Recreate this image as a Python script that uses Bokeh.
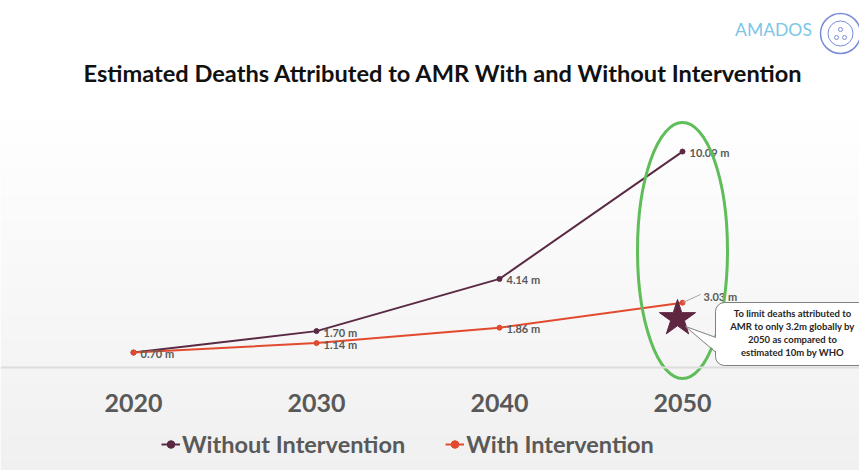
import numpy as np
from bokeh.plotting import figure
from bokeh.models import Range1d, FixedTicker, Label, Legend, LegendItem
from bokeh.core.properties import value
from bokeh.embed import file_html
from bokeh.resources import INLINE

# ---------------- data ----------------
years = [2020, 2030, 2040, 2050]
tick_labels = ["2020", "2030", "2040", "2050"]
without_vals = [0.70, 1.70, 4.14, 10.09]
with_vals = [0.70, 1.14, 1.86, 3.03]
without_labels = ["0.70 m", "1.70 m", "4.14 m", "10.09 m"]
with_labels = ["0.70 m", "1.14 m", "1.86 m", "3.03 m"]
series_names = ["Without Intervention", "With Intervention"]
title_text = "Estimated Deaths Attributed to AMR With and Without Intervention"
callout_lines = ["To limit deaths attributed to", "AMR to only 3.2m globally by",
                 "2050 as compared to", "estimated 10m by WHO"]

# ---------------- layout helpers (pixel -> data for decorations) ----------------
W, H = 859, 470
X_PX0, X_PPU = 133.0, 18.3      # px of first year, px per year
Y_PX0, Y_PPU = 367.0, 21.4      # px of zero, px per million

def dx(px):
    return years[0] + (px - X_PX0) / X_PPU

def dy(py):
    return (Y_PX0 - py) / Y_PPU

C_WITHOUT = "#5a2a44"
C_WITH = "#e24a2e"
GRAY = "#595959"
FONT = "Lato"

p = figure(width=W, height=H, output_backend="svg", toolbar_location=None,
           x_range=Range1d(dx(0), dx(W)), y_range=Range1d(dy(H), dy(0)),
           y_axis_location=None, min_border=0, min_border_left=0, min_border_right=0,
           min_border_top=0, min_border_bottom=0)
p.outline_line_color = None
p.xgrid.visible = False
p.ygrid.visible = False
p.background_fill_color = "white"
p.border_fill_color = "white"

# background gradient (white top -> light gray bottom)
N = 94
rows = []
for i in range(N):
    ypx = H - (i + 0.5) * H / N
    v = 255 if ypx < 110 else int(round(255 - 15 * (ypx - 110) / (H - 110)))
    rows.append([v])
g = np.array(rows, dtype=np.uint32)
img = (255 << 24) | (g << 16) | (g << 8) | g
p.image_rgba(image=[img.astype(np.uint32)], x=dx(0), y=dy(H), dw=dx(W) - dx(0), dh=dy(0) - dy(H))

# x axis at zero
ax = p.xaxis[0]
ax.fixed_location = 0
ax.ticker = FixedTicker(ticks=years)
ax.major_label_overrides = {y: t for y, t in zip(years, tick_labels)}
ax.major_tick_line_color = None
ax.minor_tick_line_color = None
ax.axis_line_color = "#dcdcdc"
ax.axis_line_width = 2
ax.major_label_standoff = 20
ax.major_label_text_font = FONT
ax.major_label_text_font_style = "bold"
ax.major_label_text_font_size = "25px"
ax.major_label_text_color = GRAY

# series
l1 = p.line(years, without_vals, line_color=C_WITHOUT, line_width=2)
s1 = p.scatter(years, without_vals, size=5, color=C_WITHOUT)
l2 = p.line(years, with_vals, line_color=C_WITH, line_width=2)
s2 = p.scatter(years, with_vals, size=5, color=C_WITH)

# value labels
lab_kw = dict(text_font=value(FONT), text_font_style="bold", text_font_size="11px",
              text_color=GRAY, text_align="left", text_baseline="middle")
p.text(years, without_vals, text=without_labels, x_offset=7, y_offset=1, **lab_kw)
p.text(years[1:3], with_vals[1:3], text=with_labels[1:3], x_offset=7, y_offset=1, **lab_kw)
p.segment(x0=[years[3]], y0=[with_vals[3]], x1=[dx(700)], y1=[dy(294)],
          line_color="#a6a6a6", line_width=1)
p.text([years[3]], [with_vals[3]], text=[with_labels[3]], x_offset=21, y_offset=-6, **lab_kw)

# green highlight ellipse around 2050
p.ellipse(x=[years[3]], y=[dy(250)], width=90 / X_PPU, height=256 / Y_PPU,
          fill_color=None, line_color="#5fbd5a", line_width=3)

# star
p.scatter([dx(677)], [dy(318)], marker="star", size=38, color="#5e2640")

# callout box with pointer
p.quad(left=[dx(715)], right=[dx(880)], top=[dy(302)], bottom=[dy(365)],
       fill_color="white", line_color="#808080", line_width=1, border_radius=9)
p.patch([dx(685), dx(717), dx(717)], [dy(326), dy(337), dy(352)],
        fill_color="white", line_color=None)
p.segment(x0=[dx(685), dx(685)], y0=[dy(326), dy(326)], x1=[dx(715.5), dx(715.5)],
          y1=[dy(337), dy(352)], line_color="#808080", line_width=1)
for i, t in enumerate(callout_lines):
    p.add_layout(Label(x=792, y=H - (313 + 13 * i), x_units="screen", y_units="screen",
                       text=t, text_font=FONT, text_font_style="bold", text_font_size="9.5px",
                       text_color="#262626", text_align="center", text_baseline="middle"))

# title
p.add_layout(Label(x=443, y=H - 72, x_units="screen", y_units="screen", text=title_text,
                   text_font=FONT, text_font_style="bold", text_font_size="23.6px",
                   text_color="#111111", text_align="center", text_baseline="middle"))

# logo
p.add_layout(Label(x=773, y=H - 29, x_units="screen", y_units="screen", text="AMADOS",
                   text_font=FONT, text_font_size="17.5px", text_color="#7cc6e6",
                   text_align="center", text_baseline="middle"))
p.scatter([dx(840)], [dy(33)], marker="circle", size=40, fill_color=None,
          line_color="#7a8cd8", line_width=1.5)
p.scatter([dx(840)], [dy(33)], marker="circle", size=25, fill_color=None,
          line_color="#7a8cd8", line_width=1)
p.scatter([dx(840), dx(836), dx(844)], [dy(29), dy(37), dy(37)], marker="circle", size=4,
          fill_color=None, line_color="#7a8cd8", line_width=1)

# legend
legend = Legend(items=[LegendItem(label=series_names[0], renderers=[l1, s1]),
                       LegendItem(label=series_names[1], renderers=[l2, s2])],
                orientation="horizontal", location=(161, 12), padding=0, margin=0,
                spacing=40, glyph_width=19, label_standoff=2,
                label_text_font=FONT, label_text_font_style="bold",
                label_text_font_size="23.5px", label_text_color=GRAY,
                background_fill_alpha=0, border_line_alpha=0)
p.add_layout(legend, "center")

open("out.html", "w").write(file_html(p, INLINE))
